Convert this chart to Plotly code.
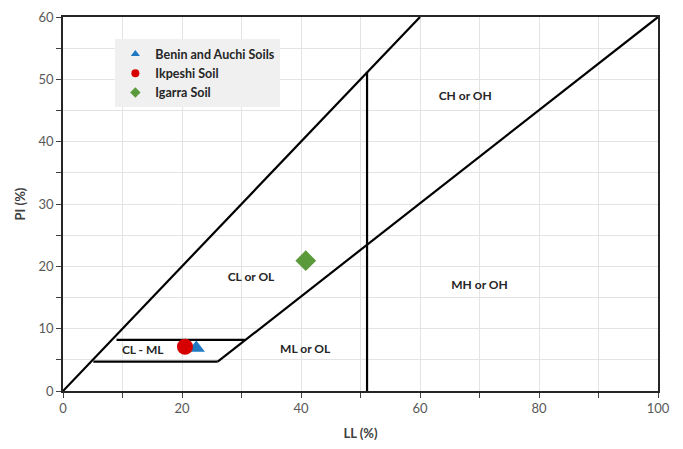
import plotly.graph_objects as go

# Sample data (LL %, PI %)
benin_ll = [22.4]
benin_pi = [6.9]
ikpeshi_ll = [20.5]
ikpeshi_pi = [7.1]
igarra_ll = [40.8]
igarra_pi = [20.9]

# Chart boundary lines (LL, PI)
u_line_ll = [0, 60]
u_line_pi = [0, 60]
a_line_ll = [26.0, 100]
a_line_pi = [4.7, 60]
upper_box_ll = [9.0, 30.6]
upper_box_pi = [8.2, 8.2]
lower_box_ll = [5.1, 26.0]
lower_box_pi = [4.7, 4.7]
vert_ll = [51.1, 51.1]
vert_pi = [0, 51.2]

# Zone labels
zone_text = ["CH or OH", "CL or OL", "MH or OH", "ML or OL", "CL - ML"]
zone_ll = [67.6, 31.6, 70.0, 40.7, 13.4]
zone_pi = [47.2, 18.1, 16.9, 6.6, 6.4]

FONT = "Lato, Open Sans, Arial"

fig = go.Figure()
line_style = dict(color="black", width=2.2)
for xs, ys in [(u_line_ll, u_line_pi), (a_line_ll, a_line_pi),
               (upper_box_ll, upper_box_pi), (lower_box_ll, lower_box_pi),
               (vert_ll, vert_pi)]:
    fig.add_trace(go.Scatter(x=xs, y=ys, mode="lines", line=line_style,
                             showlegend=False, hoverinfo="skip"))

series = [
    ("Benin and Auchi Soils", benin_ll, benin_pi, "triangle-up", 15, "#1F78C1"),
    ("Ikpeshi Soil", ikpeshi_ll, ikpeshi_pi, "circle", 16, "#D60000"),
    ("Igarra Soil", igarra_ll, igarra_pi, "diamond", 16, "#5A9A3A"),
]
for name, xs, ys, sym, size, col in series:
    fig.add_trace(go.Scatter(x=xs, y=ys, mode="markers", name=name, showlegend=False,
                             marker=dict(symbol=sym, size=size, color=col)))
# legend entries with small symbols
for name, xs, ys, sym, size, col in series:
    fig.add_trace(go.Scatter(x=[None], y=[None], mode="markers", name=name,
                             marker=dict(symbol=sym, size=8, color=col)))

fig.add_trace(go.Scatter(x=zone_ll, y=zone_pi, mode="text", text=zone_text,
                         textfont=dict(family=FONT, size=12, color="#262626", weight="bold"),
                         showlegend=False, hoverinfo="skip"))

grid_color = "#E3E3E3"
tickfont = dict(family=FONT, size=13, color="#595959")
fig.update_xaxes(range=[0, 100], dtick=20, tick0=0, automargin=False,
                 showgrid=True, gridcolor=grid_color, gridwidth=1,
                 minor=dict(dtick=10, showgrid=True, gridcolor=grid_color,
                            ticks="outside", ticklen=5, tickcolor="#404040"),
                 ticks="outside", ticklen=5, tickcolor="#404040",
                 showline=True, linecolor="#262626", linewidth=1.5, mirror=True,
                 zeroline=False, tickfont=tickfont,
                 title=dict(text="<b>LL (%)</b>", font=dict(family=FONT, size=13, color="#404040"),
                            standoff=15))
fig.update_yaxes(range=[0, 60], dtick=10, tick0=0, automargin=False,
                 showgrid=True, gridcolor=grid_color, gridwidth=1,
                 minor=dict(dtick=5, showgrid=True, gridcolor=grid_color,
                            ticks="outside", ticklen=5, tickcolor="#404040"),
                 ticks="outside", ticklen=5, tickcolor="#404040",
                 showline=True, linecolor="#262626", linewidth=1.5, mirror=True,
                 zeroline=False, tickfont=tickfont,
                 title=dict(text="<b>PI (%)</b>", font=dict(family=FONT, size=13, color="#404040"),
                            standoff=10))

# page body has an 8px margin, so the figure is sized to fit and offsets compensated
fig.update_layout(
    width=667, height=433,
    margin=dict(l=55, r=17, t=9, b=50),
    plot_bgcolor="white", paper_bgcolor="white",
    legend=dict(x=0.088, y=0.94, xanchor="left", yanchor="top",
                bgcolor="#F0F0F0", borderwidth=0,
                font=dict(family=FONT, size=12.5, color="#262626", weight="bold"),
                itemwidth=30, tracegroupgap=0, traceorder="normal"),
    font=dict(family=FONT),
)

fig.write_html("out.html")
